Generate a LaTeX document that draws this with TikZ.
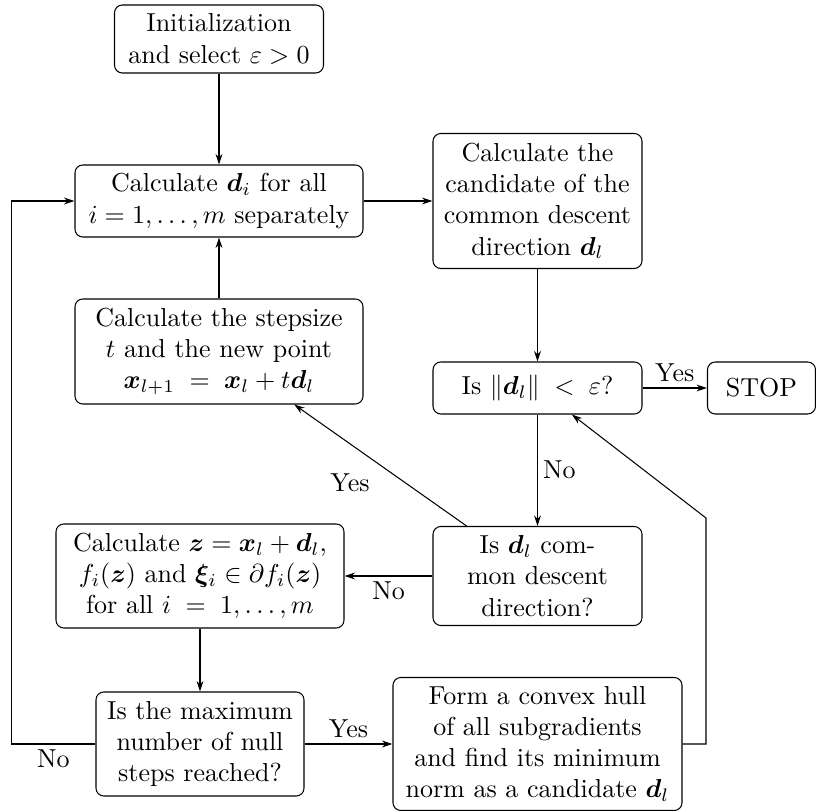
\documentclass[tikz,border=0pt]{standalone}
\usepackage{amsmath,bm}
\usetikzlibrary{arrows.meta}
\begin{document}
\begin{tikzpicture}[x=0.3846pt,y=-0.3846pt,
  blk/.style={draw, rounded corners=3pt, align=center, inner sep=1pt},
  sz/.style 2 args={minimum width=#1*0.3846pt, minimum height=#2*0.3846pt},
  arr/.style={-{Stealth[length=4pt,width=2.6pt]}},
  lbl/.style={inner sep=2pt}]
\useasboundingbox (0,0) rectangle (816,811);

\node[blk, sz={209}{68}] (init) at (219,39) {Initialization\\and select $\varepsilon>0$};
\node[blk, sz={288}{72}] (calcd) at (219,201) {Calculate $\bm{d}_i$ for all\\$i=1,\ldots,m$ separately};
\node[blk, sz={209}{135}] (cand) at (537.5,201) {Calculate the\\candidate of the\\common descent\\direction $\bm{d}_l$};
\node[blk, sz={288}{105}] (step) at (219,351.5) {Calculate the stepsize\\$t$ and the new point\\$\bm{x}_{l+1}\;=\;\bm{x}_l+t\bm{d}_l$};
\node[blk, sz={209}{52}] (isn) at (537.5,388) {Is $\|\bm{d}_l\|\;<\;\varepsilon$?};
\node[blk, sz={108}{52}] (stop) at (761.5,388) {STOP};
\node[blk, sz={209}{99}] (isc) at (537.5,576) {Is $\bm{d}_l$ com-\\mon descent\\direction?};
\node[blk, sz={288}{104}] (calz) at (200,576) {Calculate $\bm{z}=\bm{x}_l+\bm{d}_l$,\\$f_i(\bm{z})$ and $\bm{\xi}_i\in\partial f_i(\bm{z})$\\for all $i\;=\;1,\ldots,m$};
\node[blk, sz={208}{104}] (ismax) at (200,744) {Is the maximum\\number of null\\steps reached?};
\node[blk, sz={289}{133}] (hull) at (537.5,744) {Form a convex hull\\of all subgradients\\and find its minimum\\norm as a candidate $\bm{d}_l$};

\draw[arr] (init) -- (calcd);
\draw[arr] (calcd) -- (cand);
\draw[arr] (cand) -- (isn);
\draw[arr] (isn) -- node[lbl,above] (yes1) {Yes} (stop);
\draw[arr] (isn) -- node[lbl,right] (no1) {No} (isc);
\draw[arr] (isc) -- (step);
\node[lbl] (yes2) at (350,483) {Yes};
\draw[arr] (isc) -- node[lbl,below] (no2) {No} (calz);
\draw[arr] (calz) -- (ismax);
\draw[arr] (ismax) -- node[lbl,above] (yes3) {Yes} (hull);
\draw[arr] (step) -- (calcd);
\draw[arr] (ismax.west) -- node[lbl,below] (no3) {No} ++(-84,0) |- (calcd.west);
\coordinate (bend) at (706,518);
\draw[arr] (hull.east) -| (bend) -- (isn);
\end{tikzpicture}
\end{document}
